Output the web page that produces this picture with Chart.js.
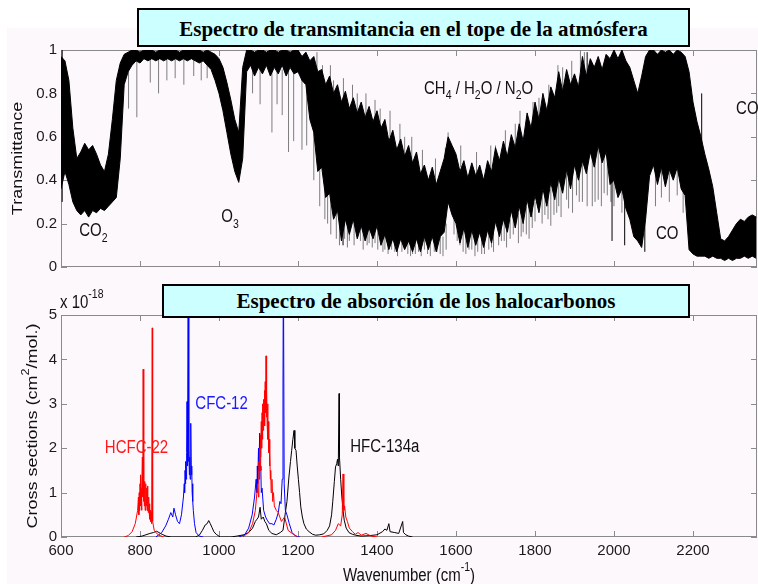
<!DOCTYPE html>
<html>
<head>
<meta charset="utf-8">
<script src="https://cdn.jsdelivr.net/npm/chart.js@4.4.1/dist/chart.umd.min.js"></script>
<style>
  html, body { margin: 0; padding: 0; background: #fff; }
  #page { position: relative; width: 758px; height: 584px; overflow: hidden; background: #fff; }
  #figbg { position: absolute; left: 7px; top: 28px; right: 0; bottom: 0; background: #fdf8fc; }
  canvas { position: absolute; left: 0; }
  #topChart { top: 0; }
  #botChart { top: 280px; }
  .tbox {
    position: absolute; box-sizing: border-box; background: #ccffff; border: 2px solid #000;
    font-family: "Liberation Serif", "Times New Roman", serif; font-weight: bold; font-size: 21px;
    color: #000; display: flex; align-items: center; justify-content: center; white-space: nowrap;
  }
  #t1 { left: 137px; top: 8px; width: 553px; height: 39px; padding-top: 3px; }
  #t2 { left: 162px; top: 284px; width: 528px; height: 34px; }
</style>
</head>
<body>
<div id="page">
  <div id="figbg"></div>
  <canvas id="topChart" width="758" height="280"></canvas>
  <canvas id="botChart" width="758" height="304"></canvas>
  <div class="tbox" id="t1">Espectro de transmitancia en el tope de la atmósfera</div>
  <div class="tbox" id="t2">Espectro de absorción de los halocarbonos</div>
</div>
<script>
// ---- top panel: transmittance band (upper / lower edge of the dense line forest)
const transWn = [
  600, 610, 620, 630, 640, 650, 660, 670, 680, 690,
  700, 710, 720, 730, 740, 750, 760, 770, 780, 790,
  800, 810, 820, 830, 840, 850, 860, 870, 880, 890,
  900, 910, 920, 930, 940, 950, 960, 970, 980, 990,
  1000, 1010, 1020, 1030, 1040, 1050, 1060, 1070, 1080, 1090,
  1100, 1110, 1120, 1130, 1140, 1150, 1160, 1170, 1180, 1190,
  1200, 1210, 1220, 1230, 1240, 1250, 1260, 1270, 1280, 1290,
  1300, 1310, 1320, 1330, 1340, 1350, 1360, 1370, 1380, 1390,
  1400, 1410, 1420, 1430, 1440, 1450, 1460, 1470, 1480, 1490,
  1500, 1510, 1520, 1530, 1540, 1550, 1560, 1570, 1580, 1590,
  1600, 1610, 1620, 1630, 1640, 1650, 1660, 1670, 1680, 1690,
  1700, 1710, 1720, 1730, 1740, 1750, 1760, 1770, 1780, 1790,
  1800, 1810, 1820, 1830, 1840, 1850, 1860, 1870, 1880, 1890,
  1900, 1910, 1920, 1930, 1940, 1950, 1960, 1970, 1980, 1990,
  2000, 2010, 2020, 2030, 2040, 2050, 2060, 2070, 2080, 2090,
  2100, 2110, 2120, 2130, 2140, 2150, 2160, 2170, 2180, 2190,
  2200, 2210, 2220, 2230, 2240, 2250, 2260, 2270, 2280, 2290,
  2300, 2310, 2320, 2330, 2340, 2350, 2360
];
const transUpper = [
  .97, .95, .86, .64, .50, .53, .57, .54, .56, .52,
  .47, .44, .52, .68, .86, .94, .98, .99, 1.0, 1.0,
  .99, 1.0, 1.0, 1.0, .99, 1.0, 1.0, 1.0, 1.0, 1.0,
  .99, 1.0, 1.0, 1.0, 1.0, 1.0, .99, 1.0, .99, .98,
  .96, .92, .85, .77, .68, .62, .92, 1.0, 1.0, .99,
  1.0, 1.0, .99, 1.0, 1.0, .99, 1.0, 1.0, .99, 1.0,
  1.0, .97, .99, .95, .97, .90, .91, .84, .88, .80,
  .84, .76, .81, .73, .78, .71, .76, .69, .74, .67,
  .72, .64, .68, .58, .63, .54, .59, .51, .56, .48,
  .53, .43, .47, .40, .46, .38, .44, .50, .60, .56,
  .52, .44, .49, .41, .48, .42, .47, .40, .49, .44,
  .55, .49, .58, .51, .61, .55, .66, .58, .71, .64,
  .76, .68, .80, .72, .83, .78, .90, .81, .91, .84,
  .89, .83, .97, .88, .96, .92, .97, .91, .98, .96,
  1.0, .96, 1.0, .95, .92, .86, .80, .88, .97, 1.0,
  1.0, .98, 1.0, .99, 1.0, .98, 1.0, .99, .97, .90,
  .76, .67, .60, .52, .45, .37, .25, .13, .12, .14,
  .17, .20, .22, .21, .23, .24, .23
];
const transLower = [
  .36, .44, .38, .30, .26, .24, .26, .23, .26, .25,
  .27, .26, .28, .30, .32, .50, .84, .90, .93, .95,
  .94, .96, .95, .96, .95, .96, .95, .96, .95, .96,
  .95, .96, .95, .96, .95, .94, .95, .93, .91, .86,
  .80, .72, .62, .52, .44, .39, .50, .90, .93, .88,
  .92, .89, .93, .88, .92, .89, .93, .88, .92, .89,
  .90, .86, .84, .68, .62, .44, .46, .32, .34, .22,
  .26, .12, .22, .15, .22, .13, .19, .12, .18, .13,
  .19, .10, .15, .08, .13, .07, .13, .08, .12, .07,
  .13, .07, .14, .08, .14, .07, .14, .16, .30, .24,
  .20, .11, .18, .09, .17, .10, .16, .09, .17, .11,
  .21, .14, .22, .16, .26, .18, .28, .20, .31, .23,
  .33, .25, .36, .28, .39, .31, .41, .34, .45, .36,
  .47, .40, .49, .43, .53, .46, .56, .48, .53, .38,
  .40, .32, .36, .27, .22, .14, .12, .09, .22, .42,
  .47, .38, .46, .37, .45, .40, .46, .36, .33, .08,
  .06, .05, .05, .05, .04, .05, .04, .04, .03, .04,
  .03, .04, .04, .05, .04, .05, .04
];

// single grey lines hanging below the band: wavenumber, bottom, top
const greyDownWn = [771, 792, 826, 847, 868, 889, 911, 936, 955, 970,
  1085, 1104, 1134, 1147, 1160, 1176, 1189, 1210, 1222,
  1240, 1255, 1268, 1275, 1283, 1297, 1305, 1318, 1325, 1330, 1342, 1358, 1365, 1375, 1380, 1388, 1395,
  1402, 1415, 1420, 1428, 1437, 1445, 1452, 1463, 1478, 1485, 1490, 1497,
  1505, 1512, 1520, 1528, 1535, 1545, 1552, 1560, 1567, 1575, 1595,
  1603, 1610, 1618, 1625, 1633, 1640, 1648, 1655, 1665, 1672, 1683, 1690, 1695,
  1708, 1715, 1722, 1728, 1737, 1745, 1758, 1765, 1770, 1778, 1785, 1793,
  1800, 1818, 1825, 1833, 1840, 1848, 1855, 1860, 1866, 1880, 1885, 1895,
  1905, 1912, 1920, 1932, 1945, 1952, 1960, 1968, 1975, 1983, 1992,
  2000, 2020, 2105, 2120, 2140, 2160, 2175];
const greyDownLo = [.73, .69, .85, .80, .86, .87, .84, .88, .86, .87,
  .80, .75, .62, .75, .70, .53, .58, .54, .56,
  .40, .28, .22, .20, .15, .13, .10, .13, .09, .12, .10, .12, .08, .10, .11, .09, .11,
  .08, .07, .08, .06, .08, .07, .05, .07, .06, .05, .06, .06,
  .07, .05, .08, .06, .05, .07, .07, .06, .05, .08, .15,
  .12, .10, .07, .06, .08, .08, .05, .07, .06, .06, .08, .09, .07,
  .10, .12, .12, .09, .13, .15, .11, .14, .16, .15, .13, .18,
  .21, .20, .24, .22, .19, .24, .25, .28, .23, .31, .27, .25,
  .33, .30, .30, .28, .28, .30, .31, .28, .34, .33, .30,
  .28, .25, .28, .32, .30, .33, .25];
const greyDownHi = [.92, .96, .96, .96, .96, .96, .96, .96, .95, .94,
  .92, .92, .92, .92, .91, .91, .91, .89, .85,
  .65, .50, .40, .50, .35, .30, .25, .25, .22, .30, .22, .22, .20, .20, .30, .20, .20,
  .18, .16, .20, .14, .14, .20, .14, .14, .12, .12, .20, .14,
  .14, .14, .20, .14, .14, .20, .14, .20, .14, .20, .30,
  .25, .20, .18, .16, .16, .20, .16, .16, .20, .16, .16, .20, .18,
  .20, .25, .22, .22, .22, .25, .25, .25, .30, .28, .28, .30,
  .30, .34, .35, .36, .36, .38, .40, .40, .40, .45, .44, .44,
  .45, .47, .50, .48, .50, .52, .55, .54, .55, .52, .45,
  .40, .40, .45, .45, .45, .45, .40];
// single grey lines poking above the band
const greyUpWn = [1248, 1262, 1282, 1290, 1315, 1338, 1350, 1372, 1395, 1408, 1433, 1458, 1470, 1488,
  1515, 1548, 1573, 1580, 1612, 1652, 1688, 1700, 1725, 1750, 1762, 1795, 1810, 1835, 1858, 1870,
  1893, 1915, 1925];
const greyUpLo = [.89, .85, .83, .76, .77, .74, .70, .70, .67, .63, .60, .55, .50, .50,
  .44, .40, .45, .52, .46, .43, .46, .46, .53, .56, .62, .66, .68, .74, .83, .82,
  .85, .90, .89];
const greyUpHi = [.99, .93, .93, .86, .87, .84, .80, .80, .77, .73, .72, .66, .60, .60,
  .54, .50, .55, .62, .56, .53, .56, .56, .63, .66, .72, .76, .78, .84, .93, .92,
  .95, 1.0, .99];

// a few black lines reaching beyond the band
const blackWn = [603, 1314, 1932, 1995, 2027, 2078, 2222];
const blackLo = [.30, .10, .80, .12, .10, .07, .50];
const blackHi = [1.0, .30, .99, .50, .40, .30, .80];

// ---- bottom panel: cross sections, units of 1e-18 cm^2/mol (null = gap)
const hcfcWn = [760, 770, 780, 788, 794, 796, 797, 798, 799, 800, 801, 802, 803, 804, 805, 806, 807, 808,
  809, 810, 811, 812, 813, 814, 815, 816, 817, 818, 819, 820, 821, 822, 823, 824, 825, 826, 827, 828,
  829, 830, 831, 832, 834, 836, 840, 848, 860, 900,
  1060, 1075, 1085, 1092, 1098, 1100, 1101, 1102, 1103, 1104, 1105, 1106, 1107, 1108, 1109, 1110,
  1111, 1112, 1113, 1114, 1115, 1116, 1117, 1118, 1119, 1120, 1121, 1122, 1123, 1124, 1125, 1126,
  1127, 1128, 1129, 1130, 1131, 1132, 1134, 1136, 1138, 1140, 1145, 1150, 1158, 1166, 1175, 1185,
  1200, 1230,
  1260, 1285, 1295, 1302, 1308, 1312, 1314, 1316, 1318, 1321, 1325, 1330, 1338, 1345, 1352, 1360,
  1372, 1385, 1400];
const hcfcVal = [0, .03, .12, .30, .60, .90, .50, 1.0, .60, 1.2, 1.4, .70, 1.1, .60, 1.15, 1.8, .90, 3.78,
  .80, 1.2, .70, 1.25, .60, 1.0, 1.2, .70, 1.1, .60, 1.15, .70, .55, .90, .60, .75, .40, .60, .35, .55,
  .30, .40, 4.71, .35, .25, .15, .10, .04, 0, null,
  0, .10, .30, .60, 1.2, .90, 1.7, 1.3, 2.0, 1.5, 2.3, 1.8, 2.6, 2.0, 2.8, 2.2,
  3.0, 2.4, 3.1, 2.6, 3.3, 2.5, 3.5, 2.8, 4.08, 2.7, 3.3, 2.5, 3.0, 2.2, 2.6, 1.9,
  2.2, 1.6, 1.9, 1.3, 1.5, 1.0, 1.3, .80, 1.0, .70, .60, .55, .35, .45, .15, .08,
  0, null,
  0, .05, .15, .30, .25, .50, 1.42, .60, .70, .45, .35, .20, .12, .06, .10, .04,
  .08, .02, 0];
const cfcWn = [840, 855, 865, 872, 878, 883, 886, 890, 895, 900, 905, 910, 912, 913, 914, 915, 916, 917,
  918, 919, 920, 921, 922, 923, 924, 925, 926, 927, 928, 929, 930, 931, 932, 933, 934, 935, 938, 942,
  950, 960, 1000,
  1050, 1065, 1075, 1084, 1090, 1094, 1096, 1097, 1098, 1100, 1101, 1103, 1104, 1106, 1107, 1109,
  1113, 1118, 1122, 1128, 1134, 1139, 1145, 1150, 1154, 1157, 1160, 1162, 1163, 1165, 1168, 1172,
  1178, 1185, 1194, 1205];
const cfcVal = [0, .10, .25, .40, .55, .45, .65, .50, .35, .30, .50, .90, 1.2, 1.0, 1.5, 1.2, 1.7, 1.3,
  1.9, 3.05, 1.6, 2.2, 6.5, 1.7, 2.0, 1.4, 1.8, 1.3, 1.7, 2.56, 1.4, 1.6, 1.0, 1.2, .80, .60, .30, .10,
  .02, 0, null,
  0, .05, .20, .50, .90, 1.3, 1.0, 1.6, 1.2, 2.0, 1.5, 2.34, 1.6, 1.5, 1.0, 1.1,
  .60, .45, .38, .30, .30, .27, .40, .55, .80, .75, 1.3, 3.4, 6.5, 1.2, .60, .50,
  .30, .10, .02, 0];
const hfcWn = [790, 805, 815, 825, 834, 842, 848, 856, 866, 880, 940, 950, 958, 965, 970, 974, 978, 982,
  987, 993, 1003, 1030, 1045, 1063, 1075, 1085, 1092, 1096, 1100, 1104, 1107, 1112, 1116, 1120,
  1126, 1134, 1145, 1155, 1162, 1168, 1172, 1177, 1181, 1184, 1187, 1190, 1192, 1195, 1198, 1201,
  1204, 1207, 1211, 1215, 1221, 1228, 1237, 1245, 1255, 1265, 1274, 1280, 1285, 1288, 1292, 1295,
  1298, 1300, 1302, 1304, 1305, 1308, 1311, 1314, 1317, 1322, 1329, 1338, 1346, 1360, 1380, 1400,
  1414, 1420, 1425, 1430, 1433, 1445, 1455, 1465, 1467, 1473, 1480, 1490];
const hfcVal = [0, .02, .05, .08, .10, .13, .10, .06, .02, 0, 0, .04, .15, .27, .30, .37, .30, .22,
  .12, .06, 0, 0, .02, .05, .10, .20, .35, .40, .45, .67, .40, .45, .35, .30,
  .15, .08, .05, .10, .15, .55, .80, 1.35, 1.7, 1.95, 2.2, 2.4, 2.0, 1.95, 1.6, 1.3,
  1.0, .68, .45, .30, .18, .12, .06, .04, .05, .07, .15, .25, .50, .80, 1.25, 1.58,
  1.65, 1.75, 1.6, 3.23, 1.8, 1.3, .90, .60, .38, .20, .10, .06, .04, .02, .03, .05,
  .12, .18, .15, .30, .12, .10, .08, .35, .10, .05, .02, 0];

const xMin = 600, xMax = 2362;
const xTickVals = [600, 800, 1000, 1200, 1400, 1600, 1800, 2000, 2200];
const topTickVals = [0, 0.2, 0.4, 0.6, 0.8, 1];
const botTickVals = [0, 1, 2, 3, 4, 5];

// text labels in data coordinates [wavenumber, value]
const topNotes = [
  { w: 646, v: 0.164, parts: [['CO'], ['2', 'sub']], color: '#111' },
  { w: 1006, v: 0.228, parts: [['O'], ['3', 'sub']], color: '#111' },
  { w: 1519, v: 0.82, parts: [['CH'], ['4', 'sub'], [' / H'], ['2', 'sub'], ['O / N'], ['2', 'sub'], ['O']], color: '#111' },
  { w: 2106, v: 0.15, parts: [['CO']], color: '#111' },
  { w: 2309, v: 0.729, parts: [['CO'], ['2', 'sub']], color: '#111' }
];
const botNotes = [
  { w: 711, v: 2.0, parts: [['HCFC-22']], color: '#ff1a1a' },
  { w: 940, v: 2.99, parts: [['CFC-12']], color: '#1a1aff' },
  { w: 1332, v: 2.02, parts: [['HFC-134a']], color: '#111' }
];

const SANS = '"Liberation Sans", Arial, sans-serif';
const STRETCH = 1.2;
const FS = 15;

function pts(xs, ys) { return xs.map((x, i) => ({ x: x, y: ys[i] })); }
function spikes(xs, lo, hi) {
  const out = [];
  xs.forEach((x, i) => { out.push({ x: x, y: lo[i] }, { x: x, y: hi[i] }, { x: x, y: null }); });
  return out;
}

function richWidth(ctx, parts, fs) {
  let w = 0;
  parts.forEach(([t, k]) => { ctx.font = (k ? fs * 0.7 : fs) + 'px ' + SANS; w += ctx.measureText(t).width; });
  return w;
}
function placeText(ctx, parts, x, y, o) {
  const fs = o.fs || FS;
  ctx.save();
  ctx.translate(x, y);
  if (o.rotate) { ctx.rotate(-Math.PI / 2); ctx.scale(STRETCH, 1); } else { ctx.scale(1, STRETCH); }
  let cx = o.center ? -richWidth(ctx, parts, fs) / 2 : 0;
  ctx.fillStyle = o.color || '#111';
  ctx.textBaseline = 'middle';
  ctx.textAlign = 'left';
  parts.forEach(([t, k]) => {
    ctx.font = (k ? fs * 0.7 : fs) + 'px ' + SANS;
    const dy = k === 'sub' ? fs * 0.38 : k === 'sup' ? -fs * 0.45 : 0;
    ctx.fillText(t, cx, dy);
    cx += ctx.measureText(t).width;
  });
  ctx.restore();
}

// grey box plus inward tick marks (MATLAB look)
const frameTicks = {
  id: 'frameTicks',
  beforeDatasetsDraw(chart) {
    const { ctx, chartArea: a, scales: { x, y } } = chart;
    ctx.save();
    ctx.strokeStyle = '#8a8a8a';
    ctx.lineWidth = 1;
    ctx.strokeRect(a.left + 0.5, a.top + 0.5, a.right - a.left - 1, a.bottom - a.top - 1);
    ctx.beginPath();
    x.ticks.forEach(t => {
      const px = Math.round(x.getPixelForValue(t.value)) + 0.5;
      ctx.moveTo(px, a.bottom); ctx.lineTo(px, a.bottom - 6);
      ctx.moveTo(px, a.top); ctx.lineTo(px, a.top + 6);
    });
    y.ticks.forEach(t => {
      const py = Math.round(y.getPixelForValue(t.value)) + 0.5;
      ctx.moveTo(a.left, py); ctx.lineTo(a.left + 6, py);
      ctx.moveTo(a.right, py); ctx.lineTo(a.right - 6, py);
    });
    ctx.stroke();
    ctx.restore();
  }
};

const notesPlugin = {
  id: 'notes',
  afterDraw(chart, args, opts) {
    const { ctx, chartArea: a, scales: { x, y } } = chart;
    (opts.list || []).forEach(n => {
      placeText(ctx, n.parts, x.getPixelForValue(n.w), y.getPixelForValue(n.v), { color: n.color });
    });
    if (opts.yTitle) placeText(ctx, opts.yTitle, a.left - opts.yTitleOff, (a.top + a.bottom) / 2, { rotate: true, center: true });
    if (opts.xTitle) placeText(ctx, opts.xTitle, (a.left + a.right) / 2, a.bottom + 39, { center: true });
    if (opts.expo) placeText(ctx, opts.expo, a.left - 1, a.top - 12, {});
  }
};

function xAxis(showLabels, h) {
  return {
    type: 'linear', min: xMin, max: xMax, offset: false,
    grid: { display: false, drawTicks: false },
    border: { display: false },
    ticks: {
      display: showLabels, padding: 5, maxRotation: 0, autoSkip: false,
      color: '#1a1a1a', font: { family: SANS, size: FS }, callback: v => String(v)
    },
    afterBuildTicks: s => { s.ticks = xTickVals.map(v => ({ value: v })); },
    afterFit: s => { s.height = h; }
  };
}
function yAxis(max, vals) {
  return {
    type: 'linear', min: 0, max: max,
    grid: { display: false, drawTicks: false },
    border: { display: false },
    ticks: {
      padding: 4, color: '#1a1a1a', autoSkip: false,
      font: { family: SANS, size: FS }, callback: v => String(v)
    },
    afterBuildTicks: s => { s.ticks = vals.map(v => ({ value: v })); },
    afterFit: s => { s.width = 61; }
  };
}

new Chart(document.getElementById('topChart'), {
  type: 'line',
  data: {
    datasets: [
      { data: spikes(blackWn, blackLo, blackHi), borderColor: '#000', borderWidth: 1, order: 0, spanGaps: false },
      { data: pts(transWn, transUpper), borderColor: '#000', borderWidth: 1, backgroundColor: '#000', fill: '+1', order: 1 },
      { data: pts(transWn, transLower), borderColor: '#000', borderWidth: 1, fill: false, order: 2 },
      { data: spikes(greyDownWn, greyDownLo, greyDownHi), borderColor: '#7d7d7d', borderWidth: 1, order: 3, spanGaps: false },
      { data: spikes(greyUpWn, greyUpLo, greyUpHi), borderColor: '#7d7d7d', borderWidth: 1, order: 4, spanGaps: false }
    ]
  },
  options: {
    responsive: false, animation: false, events: [],
    elements: { point: { radius: 0 }, line: { tension: 0 } },
    layout: { padding: { left: 0, right: 1, top: 50, bottom: 0 } },
    scales: { x: xAxis(false, 10), y: yAxis(1, topTickVals) },
    plugins: {
      legend: { display: false }, tooltip: { enabled: false },
      notes: { list: topNotes, yTitle: [['Transmittance']], yTitleOff: 43 }
    }
  },
  plugins: [frameTicks, notesPlugin]
});

new Chart(document.getElementById('botChart'), {
  type: 'line',
  data: {
    datasets: [
      { label: 'HCFC-22', data: pts(hcfcWn, hcfcVal), borderColor: '#ff0000', borderWidth: 1, order: 0 },
      { label: 'CFC-12', data: pts(cfcWn, cfcVal), borderColor: '#0000ff', borderWidth: 1, order: 1 },
      { label: 'HFC-134a', data: pts(hfcWn, hfcVal), borderColor: '#000', borderWidth: 1, order: 2 }
    ]
  },
  options: {
    responsive: false, animation: false, events: [],
    elements: { point: { radius: 0 }, line: { tension: 0 } },
    layout: { padding: { left: 0, right: 1, top: 35, bottom: 0 } },
    scales: { x: xAxis(true, 47), y: yAxis(5, botTickVals) },
    plugins: {
      legend: { display: false }, tooltip: { enabled: false },
      notes: {
        list: botNotes,
        yTitle: [['Cross sections (cm'], ['2', 'sup'], ['/mol.)']], yTitleOff: 28,
        xTitle: [['Wavenumber (cm'], ['-1', 'sup'], [')']],
        expo: [['x 10'], ['-18', 'sup']]
      }
    }
  },
  plugins: [frameTicks, notesPlugin]
});
</script>
</body>
</html>
